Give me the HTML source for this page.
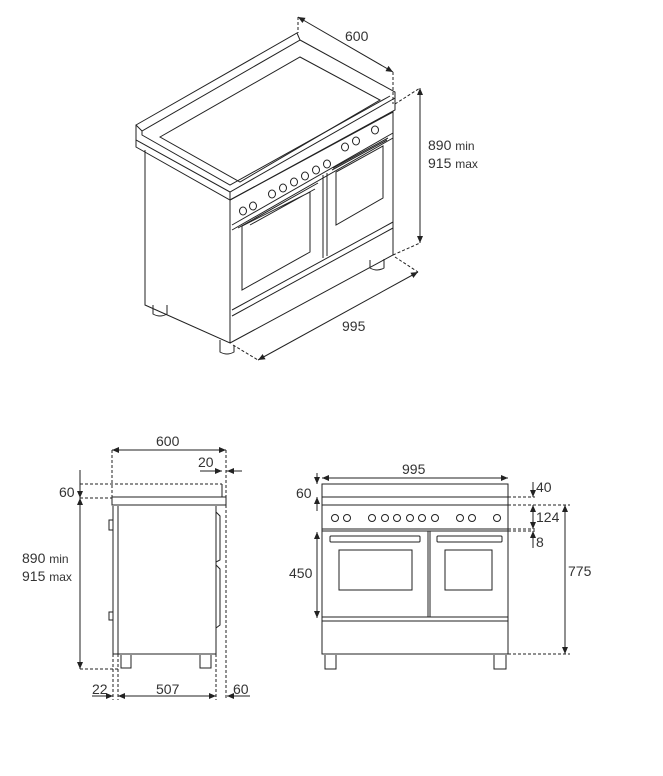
<!DOCTYPE html>
<html><head><meta charset="utf-8"><style>
html,body{margin:0;padding:0;background:#fff}
svg{display:block}
text{font-family:"Liberation Sans",sans-serif;fill:#333;font-size:14px}
</style></head><body>
<svg width="663" height="776" viewBox="0 0 663 776" xmlns="http://www.w3.org/2000/svg">
<defs>
<marker id="a" markerWidth="8" markerHeight="8" refX="7" refY="4" orient="auto-start-reverse" markerUnits="userSpaceOnUse"><path d="M0,1 L7,4 L0,7 z" fill="#222"/></marker>
</defs>
<g fill="none" stroke="#222" stroke-width="1">
<!-- ISOMETRIC -->
<path d="M136,125 L297,33 L300,40 L142,131 Z"/>
<path d="M136,125 L136,140 L230,192 L395,98 L395,92 L300,40 M142,131 L142,135 L230,185 L390,96"/>
<path d="M160,137 L300,57 L380,100 L240,182 Z" />
<path d="M136,140 L136,147 L230,200 L395,110 L395,98 M230,192 L230,200"/>
<path d="M145,150 L145,305 L230,343 L230,200 M230,200 L393,112 L393,255 L230,343"/>
<path d="M232,225 L393,133 M232,230 L393,138 M232,310 L393,222 M232,316 L393,228"/>
<path d="M323,258 L323,175 M327,256 L327,173"/>
<path d="M242,226 L242,290 L310,252 L310,192 Z M250,225 L315,189"/>
<path d="M336,172 L336,225 L383,198 L383,146 Z M332,170 L387,140"/>
<path d="M238,228 L318,183 M333,168 L388,138"/>
<ellipse cx="243" cy="211" rx="3.5" ry="4"/><ellipse cx="253" cy="206" rx="3.5" ry="4"/>
<ellipse cx="272" cy="194" rx="3.5" ry="4"/><ellipse cx="283" cy="188" rx="3.5" ry="4"/><ellipse cx="294" cy="182" rx="3.5" ry="4"/><ellipse cx="305" cy="176" rx="3.5" ry="4"/><ellipse cx="316" cy="170" rx="3.5" ry="4"/><ellipse cx="327" cy="164" rx="3.5" ry="4"/>
<ellipse cx="345" cy="147" rx="3.5" ry="4"/><ellipse cx="356" cy="141" rx="3.5" ry="4"/><ellipse cx="375" cy="130" rx="3.5" ry="4"/>
<path d="M153,305 L153,314 Q160,318 167,314 L167,305"/>
<path d="M220,340 L220,352 Q227,356 234,352 L234,345"/>
<path d="M370,260 L370,268 Q377,272 384,268 L384,259"/>
<path d="M298,17 L393,72" marker-start="url(#a)" marker-end="url(#a)"/>
<path d="M420,88 L420,243" marker-start="url(#a)" marker-end="url(#a)"/>
<path d="M258,360 L418,272" marker-start="url(#a)" marker-end="url(#a)"/>
<g stroke-dasharray="3,2"><path d="M298,17 L298,33 M393,72 L393,104 M395,104 L420,88 M393,255 L420,243 M233,345 L258,360 M395,257 L418,272"/></g>
<!-- SIDE -->
<path d="M112,450 L226,450" marker-start="url(#a)" marker-end="url(#a)"/>
<path d="M226,471 L242,471 M200,471 L222,471" />
<path d="M212,471 L222,471" marker-end="url(#a)"/><path d="M240,471 L227,471" marker-end="url(#a)"/>
<path d="M112,497 L226,497 L226,505 L112,505 Z M222,484 L222,497"/>
<path d="M118,506 L118,654 L216,654 L216,506 M113,506 L113,654 L118,654 M113,520 L109,520 L109,530 L113,530 M113,612 L109,612 L109,620 L113,620 M216,512 L220,516 L220,560 L216,562 M216,565 L220,569 L220,625 L216,628"/>
<path d="M121,655 L121,668 L131,668 L131,655 M200,655 L200,668 L211,668 L211,655"/>
<path d="M80,470 L80,498" marker-end="url(#a)"/><path d="M80,498 L80,669" marker-start="url(#a)" marker-end="url(#a)"/>
<path d="M92,696 L113,696" marker-end="url(#a)"/><path d="M118,696 L216,696" marker-start="url(#a)" marker-end="url(#a)"/><path d="M250,696 L227,696" marker-end="url(#a)"/>
<g stroke-dasharray="3,2"><path d="M112,450 L112,497 M226,450 L226,700 M80,484 L222,484 M80,498 L112,498 M80,669 L120,669 M113,654 L113,700 M118,654 L118,700 M216,654 L216,700"/></g>
<!-- FRONT -->
<path d="M322,478 L508,478" marker-start="url(#a)" marker-end="url(#a)"/>
<path d="M322,484 L508,484 L508,654 L322,654 Z M322,497 L508,497 M322,505 L508,505 M322,529 L508,529 M322,531 L508,531"/>
<path d="M428,531 L428,617 M430,531 L430,617 M322,617 L508,617 M322,621 L508,621"/>
<rect x="330" y="536" width="90" height="6" rx="1"/><rect x="437" y="536" width="65" height="6" rx="1"/>
<rect x="339" y="550" width="73" height="40"/><rect x="445" y="550" width="47" height="40"/>
<g><circle cx="335" cy="518" r="3.5"/><circle cx="347" cy="518" r="3.5"/><circle cx="372" cy="518" r="3.5"/><circle cx="385" cy="518" r="3.5"/><circle cx="397" cy="518" r="3.5"/><circle cx="410" cy="518" r="3.5"/><circle cx="422" cy="518" r="3.5"/><circle cx="435" cy="518" r="3.5"/><circle cx="460" cy="518" r="3.5"/><circle cx="472" cy="518" r="3.5"/><circle cx="497" cy="518" r="3.5"/></g>
<path d="M325,655 L325,669 L336,669 L336,655 M494,655 L494,669 L506,669 L506,655"/>
<path d="M317,473 L317,484" marker-end="url(#a)"/><path d="M317,511 L317,497" marker-end="url(#a)"/>
<path d="M317,532 L317,618" marker-start="url(#a)" marker-end="url(#a)"/>
<path d="M533,482 L533,497" marker-end="url(#a)"/><path d="M533,505 L533,529" marker-start="url(#a)" marker-end="url(#a)"/><path d="M533,548 L533,531" marker-end="url(#a)"/>
<path d="M565,505 L565,654" marker-start="url(#a)" marker-end="url(#a)"/>
<g stroke-dasharray="3,2"><path d="M508,497 L535,497 M508,505 L570,505 M508,529 L535,529 M508,531 L535,531 M508,654 L570,654"/></g>
</g>
<text x="345" y="41">600</text>
<text x="428" y="150">890 <tspan font-size="12">min</tspan></text>
<text x="428" y="168">915 <tspan font-size="12">max</tspan></text>
<text x="342" y="331">995</text>
<text x="156" y="446">600</text>
<text x="198" y="467">20</text>
<text x="59" y="497">60</text>
<text x="22" y="563">890 <tspan font-size="12">min</tspan></text>
<text x="22" y="581">915 <tspan font-size="12">max</tspan></text>
<text x="92" y="694">22</text>
<text x="156" y="694">507</text>
<text x="233" y="694">60</text>
<text x="402" y="474">995</text>
<text x="296" y="498">60</text>
<text x="289" y="578">450</text>
<text x="536" y="492">40</text>
<text x="536" y="522">124</text>
<text x="536" y="547">8</text>
<text x="568" y="576">775</text>
</svg>
</body></html>
